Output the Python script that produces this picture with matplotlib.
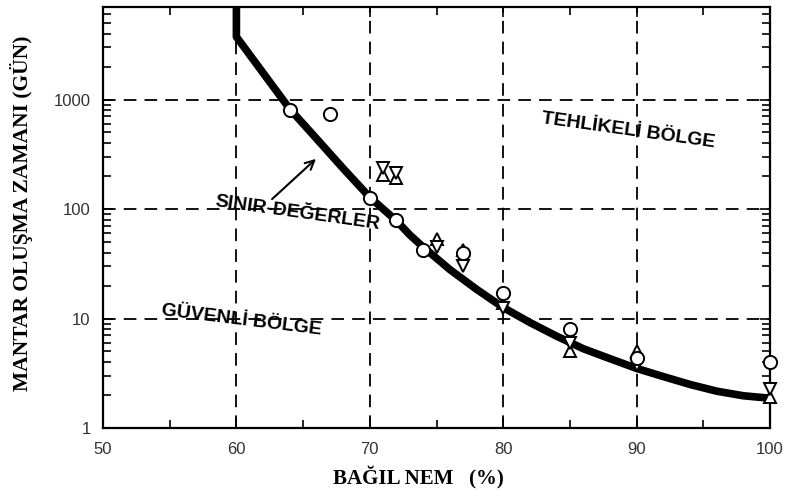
import matplotlib
matplotlib.use("Agg")
import matplotlib.pyplot as plt
from matplotlib.ticker import LogLocator, FixedLocator, NullFormatter, FixedFormatter

# ---- data ----
curve_x = [60, 60, 62, 64, 66, 68, 70, 71, 72, 73, 74, 76, 78, 80, 82, 84, 86, 88, 90, 92, 94, 96, 98, 100]
curve_y = [7000, 3740, 1750, 820, 440, 235, 128, 100, 78, 58, 45, 28, 18.5, 12.6, 9.2, 6.9, 5.3, 4.3, 3.5, 2.95, 2.5, 2.17, 1.97, 1.87]

circ_x = [64, 67, 70, 72, 74, 77, 80, 85, 90, 100]
circ_y = [810, 730, 126, 79, 42, 40, 17.2, 8.1, 4.4, 4.0]

up_x = [71, 72, 75, 77, 80, 85, 90, 100]
up_y = [205, 190, 53, 42, 14, 5.0, 5.0, 1.9]

down_x = [71, 72, 75, 77, 80, 85, 90, 100]
down_y = [236, 215, 45, 30, 12.5, 6.0, 3.8, 2.25]

x_ticks = [50, 60, 70, 80, 90, 100]
y_ticks = [1, 10, 100, 1000]
y_ticklabels = ["1", "10", "100", "1000"]

fig = plt.figure(figsize=(7.87, 4.97), dpi=100)
ax = fig.add_axes([103/787, 1-428/497, (770-103)/787, (428-7)/497])
ax.set_yscale("log")
ax.set_xlim(50, 100)
ax.set_ylim(1, 7000)

# grid
for gx in x_ticks[1:-1]:
    ax.axvline(gx, color="black", lw=1.3, ls=(0, (7, 4.5)), zorder=1)
for gy in y_ticks[1:]:
    ax.axhline(gy, color="black", lw=1.3, ls=(0, (7, 4.5)), zorder=1)

# curve
ax.plot(curve_x, curve_y, color="black", lw=5.5, solid_capstyle="butt",
        solid_joinstyle="round", zorder=3, clip_on=False)

mk = dict(linestyle="none", markerfacecolor="white", markeredgecolor="black",
          markeredgewidth=1.4, zorder=4, clip_on=False)
ax.plot(up_x, up_y, marker="^", markersize=9, **mk)
ax.plot(down_x, down_y, marker="v", markersize=9, **mk)
ax.plot(circ_x, circ_y, marker="o", markersize=9.5, **mk)

# ticks
ax.xaxis.set_major_locator(FixedLocator(x_ticks))
ax.xaxis.set_minor_locator(FixedLocator([55, 65, 75, 85, 95]))
ax.yaxis.set_major_locator(FixedLocator(y_ticks))
ax.yaxis.set_major_formatter(FixedFormatter(y_ticklabels))
ax.yaxis.set_minor_locator(LogLocator(base=10, subs=range(2, 10)))
ax.yaxis.set_minor_formatter(NullFormatter())
ax.tick_params(which="both", direction="in", top=True, right=True,
               colors="black", labelcolor="#333333", width=1.2)
ax.tick_params(which="major", length=7, labelsize=12)
ax.tick_params(which="minor", length=6)
ax.tick_params(axis="x", which="major", pad=10)
ax.tick_params(axis="y", which="major", pad=9)
for lab in ax.get_xticklabels() + ax.get_yticklabels():
    lab.set_fontfamily("Liberation Sans")
for s in ax.spines.values():
    s.set_linewidth(1.6)

# axis labels
fig.text(22/787, 1-213/497, "MANTAR OLUŞMA ZAMANI (GÜN)", rotation=90,
         ha="center", va="center", fontsize=15.5, fontweight="bold",
         family="Liberation Serif")
fig.text(418/787, 1-478/497, "BAĞIL NEM   (%)", ha="center", va="center",
         fontsize=15, fontweight="bold", family="Liberation Serif")

# region annotations
txt = dict(ha="center", va="center", fontsize=14, fontweight="bold",
           family="Liberation Sans", transform=fig.transFigure, zorder=5)
ax.text(628/787, 1-131/497, "TEHLİKELİ BÖLGE", rotation=-8, **txt)
ax.text(297/787, 1-213/497, "SINIR-DEĞERLER", rotation=-8, **txt)
ax.text(242/787, 1-320/497, "GÜVENLİ BÖLGE", rotation=-7, **txt)

ax.annotate("", xy=(318/787, 1-157/497), xytext=(270/787, 1-201/497),
            xycoords="figure fraction", textcoords="figure fraction",
            arrowprops=dict(arrowstyle="->", color="black", lw=1.5,
                            mutation_scale=16))

fig.savefig("out.png", dpi=100)
